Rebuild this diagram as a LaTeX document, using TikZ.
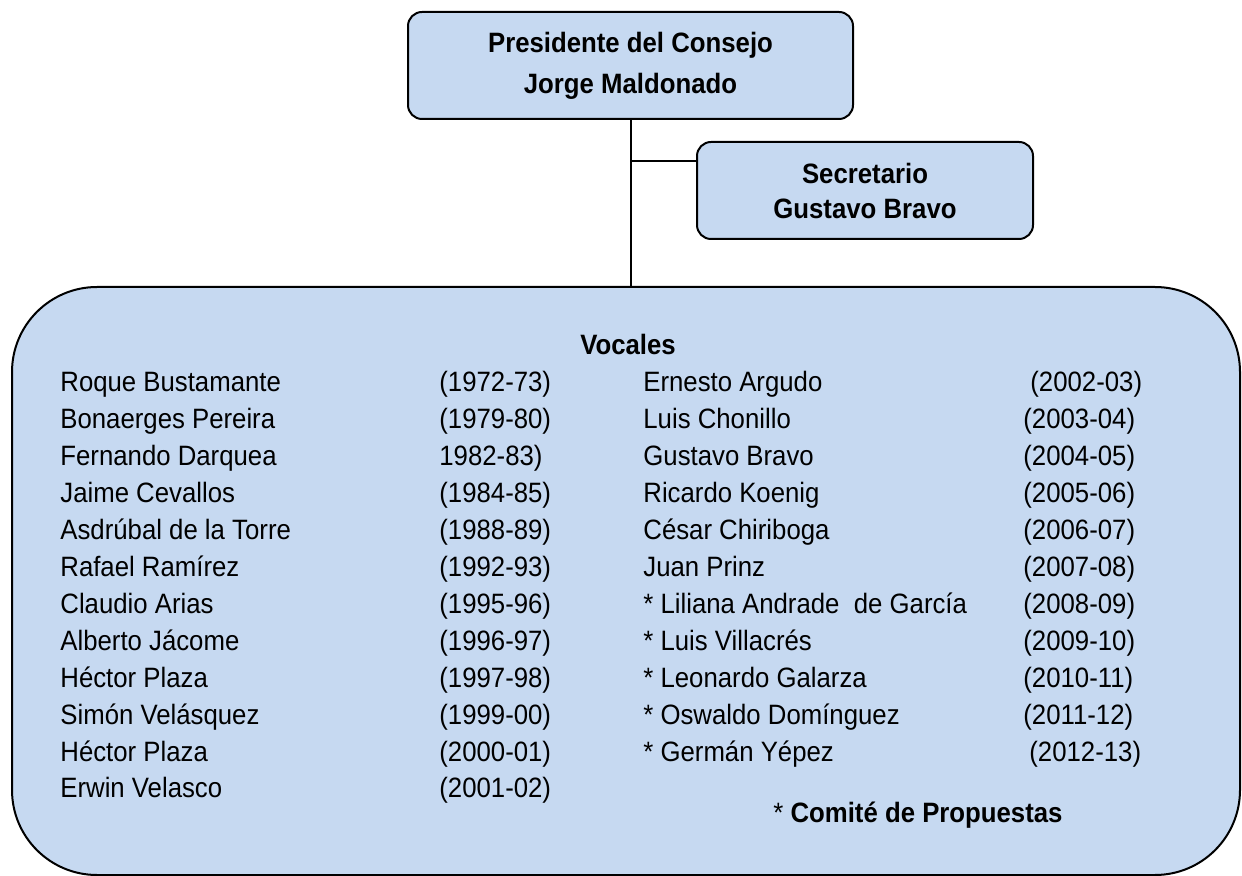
\documentclass[tikz,border=0pt]{standalone}
\usepackage{fontspec}
\setmainfont{Liberation Sans}[FakeStretch=0.92]
\usetikzlibrary{positioning}
\definecolor{boxblue}{HTML}{C6D9F1}

\begin{document}
\begin{tikzpicture}[x=0.5pt,y=-0.5pt,
  box/.style={draw,fill=boxblue,rounded corners=7pt,line width=1pt,align=center,font=\bfseries\fontsize{14}{20.5}\selectfont},
  member/.style={anchor=base west,inner sep=0pt,font=\fontsize{14}{17}\selectfont}]
\useasboundingbox (0,0) rectangle (1242,876);
\node [box,minimum width=222.5pt,minimum height=53.5pt] (pres) at (630.5,65.5) {Presidente del Consejo\\Jorge Maldonado};
\node [box,minimum width=168pt,minimum height=48.5pt,font=\bfseries\fontsize{14}{17.5}\selectfont] (sec) at (865,190.5) {Secretario\\Gustavo Bravo};
\node [draw,fill=boxblue,rounded corners=42.5pt,line width=1pt,minimum width=614pt,minimum height=294pt,inner sep=0pt] (voc) at (626,581) {};
\coordinate (secin) at ([yshift=-10pt]sec.north west);
\draw [line width=1pt] (pres.south) -- (pres.south |- voc.north);
\draw [line width=1pt] (pres.south |- secin) -- (secin);
\node [anchor=base,inner sep=0pt,font=\bfseries\fontsize{14}{17}\selectfont] (vocal) at (628,355) {Vocales};
\foreach \nm/\yr [count=\i from 0] in {Roque Bustamante/{(1972-73)},Bonaerges Pereira/{(1979-80)},
  Fernando Darquea/{1982-83)},Jaime Cevallos/{(1984-85)},Asdrúbal de la Torre/{(1988-89)},
  Rafael Ramírez/{(1992-93)},Claudio Arias/{(1995-96)},Alberto Jácome/{(1996-97)},
  Héctor Plaza/{(1997-98)},Simón Velásquez/{(1999-00)},Héctor Plaza/{(2000-01)},Erwin Velasco/{(2001-02)}}{
  \node [member] (l\i) at (60,{392+36.9*\i}) {\nm};
  \node [member] (ly\i) at (439,{392+36.9*\i}) {\yr};
}
\foreach \nm/\yr/\yx [count=\i from 0] in {Ernesto Argudo/{(2002-03)}/1030,Luis Chonillo/{(2003-04)}/1023,
  Gustavo Bravo/{(2004-05)}/1023,Ricardo Koenig/{(2005-06)}/1023,César Chiriboga/{(2006-07)}/1023,
  Juan Prinz/{(2007-08)}/1023,* Liliana Andrade\ \ de García/{(2008-09)}/1023,* Luis Villacrés/{(2009-10)}/1023,
  * Leonardo Galarza/{(2010-11)}/1023,* Oswaldo Domínguez/{(2011-12)}/1023,* Germán Yépez/{(2012-13)}/1029}{
  \node [member] (r\i) at (643,{392+36.9*\i}) {\nm};
  \node [member] (ry\i) at (\yx,{392+36.9*\i}) {\yr};
}
\node [member] (nota) at (773,822) {* \textbf{Comité de Propuestas}};
\end{tikzpicture}
\end{document}
